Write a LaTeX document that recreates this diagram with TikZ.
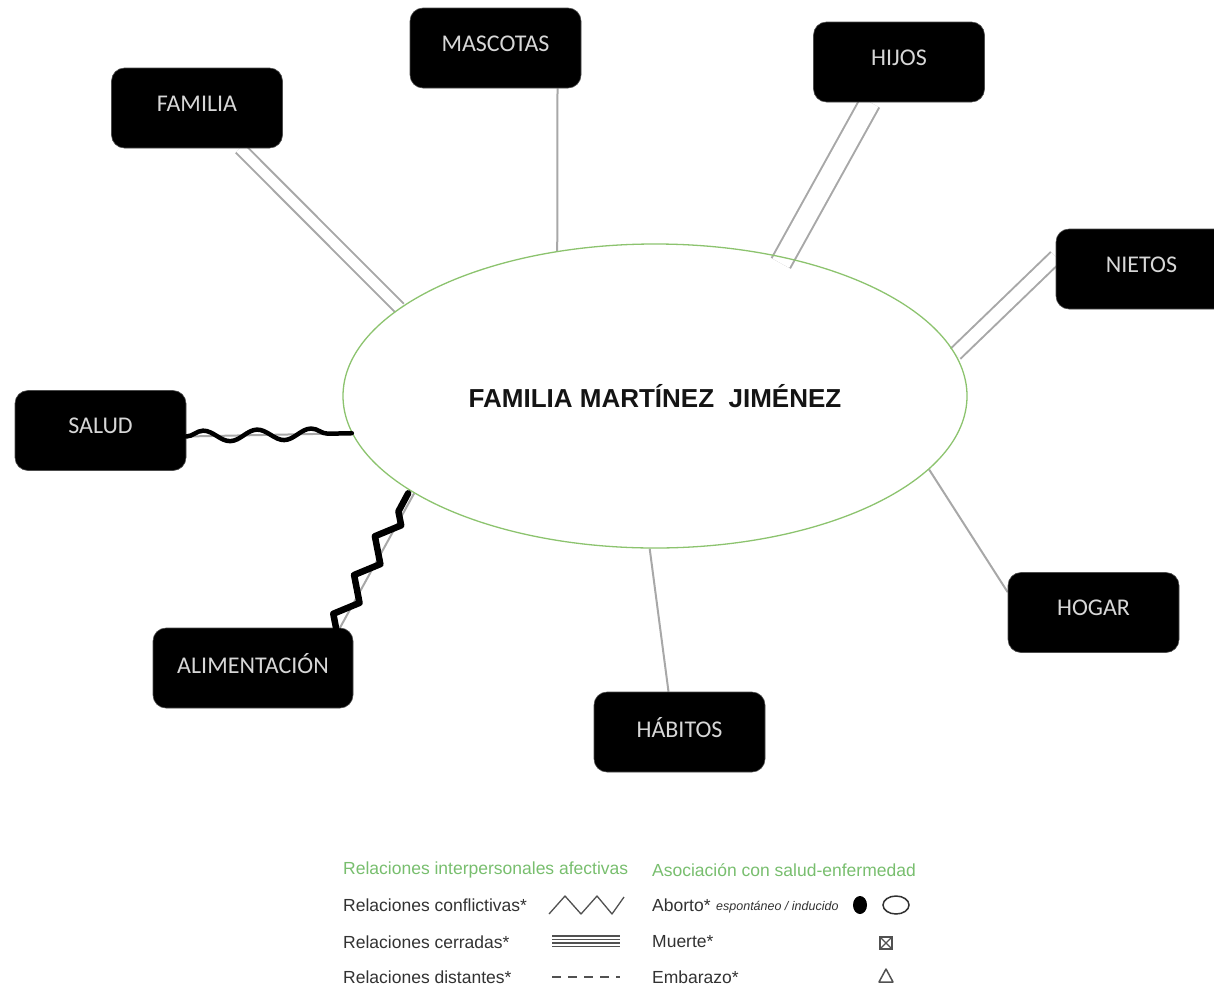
\documentclass[tikz,border=0pt]{standalone}
\usepackage{fontspec}
\setmainfont{Liberation Sans}
\newfontfamily\boxfam{Carlito}
\usetikzlibrary{shapes.geometric,decorations.pathmorphing,calc}
\pgfdeclarelayer{bg}
\pgfsetlayers{bg,main}
\definecolor{ellgreen}{RGB}{140,195,110}
\definecolor{lgreen}{RGB}{120,190,110}
\definecolor{boxtext}{RGB}{215,215,215}
\definecolor{conn}{RGB}{168,168,168}
\definecolor{legtext}{RGB}{50,50,50}
\definecolor{titletext}{RGB}{20,20,20}
\begin{document}
\begin{tikzpicture}[x=1pt,y=1pt,
  boxnode/.style={fill=black, draw=black!70, line width=0.6pt, rounded corners=13pt,
    minimum width=171pt, minimum height=80pt, inner sep=0pt, text=boxtext,
    font=\boxfam\fontsize{24}{26}\selectfont},
  single/.style={draw=conn, line width=2pt},
  dbl/.style={draw=conn, line width=2pt, double=white, double distance=#1},
  conflict/.style={draw=black, line width=#1, line join=round, line cap=round, decorate},
  legtxt/.style={anchor=west, inner sep=0pt, text=legtext, font=\fontsize{17.5}{20}\selectfont},
  leghead/.style={anchor=west, inner sep=0pt, text=lgreen, font=\fontsize{17.5}{20}\selectfont},
  legline/.style={draw=legtext!85, line width=1.3pt}
]
\useasboundingbox (0,0) rectangle (1214,-993);

% centre
\node[ellipse, draw=ellgreen, line width=1.3pt, minimum width=624pt, minimum height=304pt,
  inner sep=0pt, text=titletext, font=\bfseries\fontsize{26}{28}\selectfont]
  (c) at (655,-396) {FAMILIA MARTÍNEZ\ \ JIMÉNEZ};

% boxes
\node[boxnode] (fam)  at (197,-108)   {\raisebox{9pt}{FAMILIA}};
\node[boxnode] (masc) at (495.5,-48)  {\raisebox{9pt}{MASCOTAS}};
\node[boxnode] (hijos) at (899,-62)   {\raisebox{9pt}{HIJOS}};
\node[boxnode] (niet) at (1141.5,-269) {\raisebox{9pt}{NIETOS}};
\node[boxnode] (sal)  at (100.5,-430.5) {\raisebox{9pt}{SALUD}};
\node[boxnode, minimum width=200pt] (alim) at (253,-668) {\raisebox{9pt}{ALIMENTACIÓN}};
\node[boxnode] (hab)  at (679.5,-732) {\raisebox{9pt}{HÁBITOS}};
\node[boxnode] (hog)  at (1093.5,-612.5) {\raisebox{9pt}{HOGAR}};

% connectors
\begin{pgfonlayer}{bg}
\draw[dbl=10pt] ([xshift=43pt]fam.south) -- (c.161.2);
\draw[single] ([xshift=62pt]masc.south) -- (c.124.4);
\draw[dbl=19pt] ([xshift=-29pt]hijos.south) -- ([yshift=-7pt]c.48);
\draw[dbl=12pt] ([yshift=12pt]niet.west) -- (c.8);
\draw[single] ([yshift=-6pt]sal.east) -- (c.187.5);
\draw[single] ([xshift=87pt]alim.north) -- (c.202);
\draw[single] ([xshift=-11pt]hab.north) -- (c.268.8);
\draw[single] ([yshift=-20pt]hog.north west) -- (c.345);
\end{pgfonlayer}
\draw[conflict=4.5pt, decoration={snake, amplitude=5.5pt, segment length=54pt}]
  ([yshift=-6pt]sal.east) -- (c.187.5);
\draw[conflict=6.5pt, decoration={zigzag, amplitude=9pt, segment length=44pt}]
  ([xshift=83pt]alim.north) -- ([xshift=-6pt]c.202);

% legend
\node[leghead] (lh1) at (343,-870) {Relaciones interpersonales afectivas};
\node[leghead] (lh2) at (652,-870) {Asociación con salud-enfermedad};
\node[legtxt] (l1) at (343,-905) {Relaciones conflictivas*};
\node[legtxt] (l2) at (343,-942) {Relaciones cerradas*};
\node[legtxt] (l3) at (343,-977) {Relaciones distantes*};
\node[legtxt] (r1) at (652,-905) {Aborto*};
\node[anchor=west, inner sep=0pt, text=legtext, font=\itshape\fontsize{12.5}{14}\selectfont]
  (r1b) at (716,-907) {espontáneo / inducido};
\node[legtxt] (r2) at (652,-942) {Muerte*};
\node[legtxt] (r3) at (652,-977) {Embarazo*};

\draw[legline, line join=round] (549,-914) -- (565,-896) -- (581,-914) -- (597,-896) -- (612,-914) -- (624,-897);
\foreach \yy in {936,939.5,943,946.5} \draw[legline, line width=1.1pt] (552,-\yy) -- (620,-\yy);
\draw[legline, dash pattern=on 9pt off 7pt] (552,-977) -- (620,-977);

\fill[black] (860,-905) ellipse [x radius=7pt, y radius=9pt];
\draw[legtext, line width=1.5pt] (896,-905) ellipse [x radius=13pt, y radius=9pt];
\draw[legline, line width=1.2pt] (880,-937) rectangle (892,-949);
\draw[legline, line width=1.2pt] (880,-937) -- (892,-949) (880,-949) -- (892,-937);
\draw[legline, line width=1.5pt, line join=round] (879,-982) -- (886,-969) -- (893,-982) -- cycle;
\end{tikzpicture}
\end{document}
